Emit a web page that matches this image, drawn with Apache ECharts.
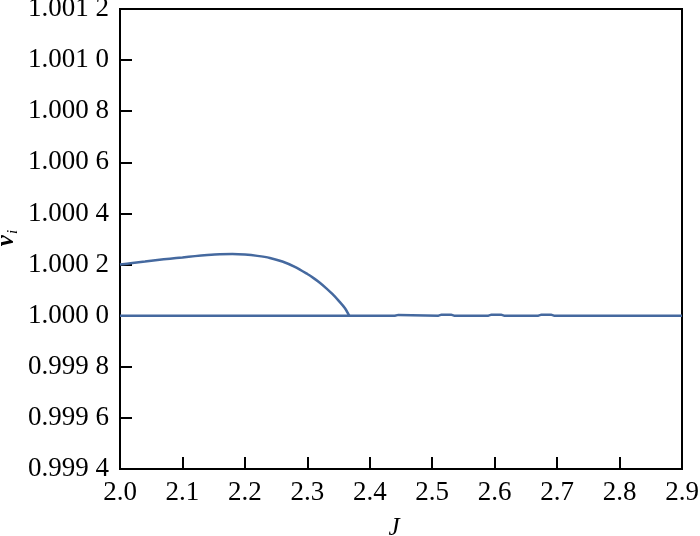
<!DOCTYPE html>
<html><head><meta charset="utf-8">
<script src="https://cdn.jsdelivr.net/npm/echarts@6/dist/echarts.min.js"></script>
<style>html,body{margin:0;padding:0;background:#fff}#c{width:700px;height:536px}</style>
</head><body><div id="c"></div>
<script>
var xTicks = [2.0, 2.1, 2.2, 2.3, 2.4, 2.5, 2.6, 2.7, 2.8, 2.9];
var yTicks = ['0.999 4','0.999 6','0.999 8','1.000 0','1.000 2','1.000 4','1.000 6','1.000 8','1.001 0','1.001 2'];
var upperJ = [2.00, 2.02, 2.04, 2.06, 2.08, 2.10, 2.12, 2.14, 2.16, 2.18, 2.20, 2.22, 2.24, 2.26, 2.28, 2.30, 2.31, 2.32, 2.33, 2.34, 2.35, 2.36, 2.367];
var upperV = [1.000200, 1.000206, 1.000212, 1.000218, 1.000223, 1.000228, 1.000233, 1.000237, 1.000240, 1.000241, 1.000239, 1.000234, 1.000226, 1.000212, 1.000191, 1.000163, 1.000147, 1.000129, 1.000108, 1.000085, 1.000059, 1.000030, 1.000000];
var lowerJ = [2.00, 2.44, 2.442, 2.446, 2.448, 2.51, 2.515, 2.53, 2.535, 2.59, 2.595, 2.61, 2.615, 2.67, 2.675, 2.69, 2.695, 2.90];
var lowerV = [1.000000, 1.000000, 1.000003, 1.000003, 1.000000, 1.000000, 1.000004, 1.000004, 1.000000, 1.000000, 1.000004, 1.000004, 1.000000, 1.000000, 1.000004, 1.000004, 1.000000, 1.000000];

function pairs(a, b) { return a.map(function (x, i) { return [x, b[i]]; }); }
var col = '#45699f';
var font = '"Liberation Serif", "Times New Roman", serif';
var chart = echarts.init(document.getElementById('c'));
chart.setOption({
  animation: false,
  grid: { left: 120, right: 18, top: 9, bottom: 67, containLabel: false, outerBoundsMode: 'none', show: true, borderColor: '#000', borderWidth: 2, backgroundColor: 'transparent' },
  xAxis: {
    type: 'value', min: 2.0, max: 2.9, interval: 0.1,
    name: 'J', nameLocation: 'middle', nameGap: 47,
    nameTextStyle: { fontFamily: font, fontStyle: 'italic', fontSize: 25, color: '#000', padding: [0, 14, 0, 0] },
    axisLine: { lineStyle: { color: '#000', width: 2 } },
    axisTick: { inside: true, length: 12, lineStyle: { color: '#000', width: 2 } },
    axisLabel: { fontFamily: font, fontSize: 27, color: '#000', margin: 10,
      formatter: function (v) { var i = Math.round((v - 2.0) * 10); return xTicks[i] !== undefined ? xTicks[i].toFixed(1) : ''; } },
    splitLine: { show: false }
  },
  yAxis: {
    type: 'value', min: 0.9994, max: 1.0012, interval: 0.0002,
    axisLine: { lineStyle: { color: '#000', width: 2 } },
    axisTick: { inside: true, length: 12, lineStyle: { color: '#000', width: 2 } },
    axisLabel: { fontFamily: font, fontSize: 27, color: '#000', margin: 11,
      formatter: function (v) { var i = Math.round((v - 0.9994) / 0.0002); return yTicks[i] || ''; } },
    splitLine: { show: false }
  },
  graphic: [{
    type: 'text', x: 7, y: 238, rotation: Math.PI / 2,
    style: { rich: {
      v: { fontFamily: font, fontStyle: 'italic', fontWeight: 'bold', fontSize: 25, fill: '#000' },
      i: { fontFamily: font, fontStyle: 'italic', fontSize: 15, fill: '#000', padding: [12, 0, 0, 1] }
    }, text: '{v|v}{i|i}', align: 'center', verticalAlign: 'middle' }
  }],
  series: [
    { type: 'line', data: pairs(upperJ, upperV), showSymbol: false, smooth: 0.3, lineStyle: { color: col, width: 2.5 }, itemStyle: { color: col } },
    { type: 'line', data: pairs(lowerJ, lowerV), showSymbol: false, lineStyle: { color: col, width: 2.5 }, itemStyle: { color: col } }
  ]
});
</script></body></html>
